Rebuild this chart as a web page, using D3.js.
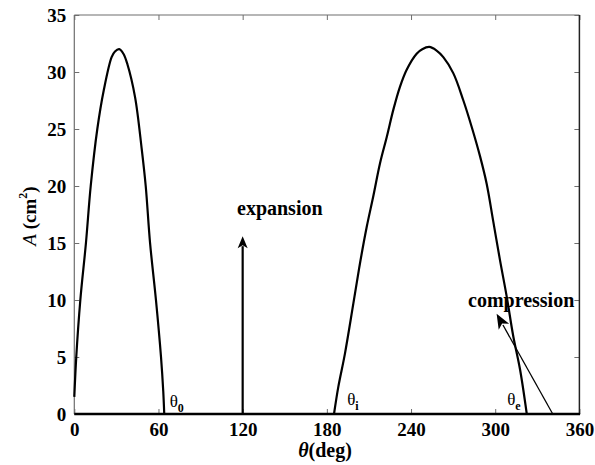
<!DOCTYPE html>
<html>
<head>
<meta charset="utf-8">
<script src="https://cdn.jsdelivr.net/npm/d3@7"></script>
<style>
  html, body { margin: 0; padding: 0; background: #fff; }
  svg { display: block; }
  text { font-family: "Liberation Serif", "Times New Roman", serif; fill: #000; }
</style>
</head>
<body>
<svg id="chart" width="595" height="465"></svg>
<script>
// Crank angle (deg) and area (cm^2) of the two lobes
const thetaLobe1 = [0, 1.4, 4.3, 8.3, 11.7, 16.4, 21, 26.6, 29, 32, 35, 37.8, 43.3, 48, 50.9, 54, 58.2, 61.8, 63.4, 64.1];
const areaLobe1  = [1.5, 5, 10, 15, 20, 25, 28.4, 31.3, 31.8, 32, 31.6, 30.7, 27.8, 23.3, 20, 15, 10, 5, 2, 0];

const thetaLobe2 = [185.1, 188.2, 192.9, 198.9, 203.6, 208.4, 213.1, 217.9, 222.7, 227.4, 232.1, 236.9, 244, 248, 253, 258, 263, 270.1, 277.3, 283.2, 289.2, 293.9, 298.6, 303.4, 308.2, 312.9, 317.7, 322.5];
const areaLobe2  = [0, 2.4, 5.3, 9.7, 13.2, 16.4, 19.1, 22.0, 24.3, 26.7, 28.7, 30.2, 31.6, 32.0, 32.2, 31.9, 31.3, 29.9, 27.5, 25.2, 22.6, 20.2, 16.9, 13.5, 10.3, 6.8, 3.9, 0];

const xTicks = [0, 60, 120, 180, 240, 300, 360];
const yTicks = [0, 5, 10, 15, 20, 25, 30, 35];

// Arrows: [theta start, area start, theta end, area end]
const expansionArrow   = [120, 0, 120, 15.6];
const compressionArrow = [341, 0, 301, 8.8];

// Angle markers: [label subscript, theta, area]
const angleMarks = [["0", 68, 0.6], ["i", 194.5, 0.75], ["e", 308.5, 0.75]];

const svg = d3.select("#chart");
const m = { left: 74.3, right: 579.4, top: 15, bottom: 414 };

const x = d3.scaleLinear().domain([0, 360]).range([m.left, m.right]);
const y = d3.scaleLinear().domain([0, 35]).range([m.bottom, m.top]);

// Frame and inward ticks on all four sides
const axisColor = "#6e6e6e";
function styleAxis(g) {
  g.select(".domain").remove();
  g.selectAll(".tick line").attr("stroke", axisColor).attr("stroke-width", 1);
}
svg.append("g").attr("transform", `translate(0,${m.bottom})`)
  .call(d3.axisBottom(x).tickValues(xTicks).tickSize(-5).tickPadding(9).tickFormat(d3.format("d")))
  .call(styleAxis)
  .call(g => g.selectAll(".tick text").attr("font-size", 19).attr("font-weight", "bold").attr("font-family", "Liberation Serif").attr("fill", "#000"));
svg.append("g").attr("transform", `translate(0,${m.top})`)
  .call(d3.axisTop(x).tickValues(xTicks).tickSize(-5).tickFormat(""))
  .call(styleAxis);
svg.append("g").attr("transform", `translate(${m.left},0)`)
  .call(d3.axisLeft(y).tickValues(yTicks).tickSize(-5).tickPadding(8).tickFormat(d3.format("d")))
  .call(styleAxis)
  .call(g => g.selectAll(".tick text").attr("font-size", 19).attr("font-weight", "bold").attr("font-family", "Liberation Serif").attr("fill", "#000"));
svg.append("g").attr("transform", `translate(${m.right},0)`)
  .call(d3.axisRight(y).tickValues(yTicks).tickSize(-5).tickFormat(""))
  .call(styleAxis);

svg.append("line").attr("x1", m.left).attr("x2", m.right).attr("y1", m.top).attr("y2", m.top)
  .attr("stroke", axisColor).attr("stroke-width", 1.2);
svg.append("line").attr("x1", m.left).attr("x2", m.left).attr("y1", m.top).attr("y2", m.bottom)
  .attr("stroke", axisColor).attr("stroke-width", 1.2);
svg.append("line").attr("x1", m.right).attr("x2", m.right).attr("y1", m.top).attr("y2", m.bottom)
  .attr("stroke", "#222").attr("stroke-width", 1.5);

// Area curves
const line = d3.line().x(d => x(d[0])).y(d => y(d[1])).curve(d3.curveCatmullRom.alpha(0.5));
[[thetaLobe1, areaLobe1], [thetaLobe2, areaLobe2]].forEach(([t, a]) => {
  svg.append("path").datum(t.map((v, i) => [v, a[i]]))
    .attr("d", line).attr("fill", "none").attr("stroke", "#000").attr("stroke-width", 2.2)
    .attr("stroke-linejoin", "round");
});

// Bottom axis line drawn over the curve ends
svg.append("line").attr("x1", m.left).attr("x2", m.right + 0.7).attr("y1", m.bottom).attr("y2", m.bottom)
  .attr("stroke", "#000").attr("stroke-width", 2.6);

// Arrow heads
function arrow(a, width, headLen, headW) {
  const x1 = x(a[0]), y1 = y(a[1]), x2 = x(a[2]), y2 = y(a[3]);
  const ang = Math.atan2(y2 - y1, x2 - x1);
  const bx = x2 - headLen * Math.cos(ang), by = y2 - headLen * Math.sin(ang);
  svg.append("line").attr("x1", x1).attr("y1", y1).attr("x2", bx + 2 * Math.cos(ang)).attr("y2", by + 2 * Math.sin(ang))
    .attr("stroke", "#000").attr("stroke-width", width);
  const px = -Math.sin(ang) * headW / 2, py = Math.cos(ang) * headW / 2;
  const nx = x2 - headLen * 0.75 * Math.cos(ang), ny = y2 - headLen * 0.75 * Math.sin(ang);
  svg.append("path")
    .attr("d", `M${x2},${y2} L${bx + px},${by + py} L${nx},${ny} L${bx - px},${by - py} Z`)
    .attr("fill", "#000");
}
arrow(expansionArrow, 2.2, 12, 10);
arrow(compressionArrow, 1.3, 15, 12);

// Annotations
svg.append("text").attr("x", 237).attr("y", 215).attr("font-size", 20).attr("font-weight", "bold").text("expansion");
svg.append("text").attr("x", 468).attr("y", 307).attr("font-size", 20).attr("font-weight", "bold").text("compression");

angleMarks.forEach(([sub, t, a]) => {
  const tx = svg.append("text").attr("x", x(t)).attr("y", y(a)).attr("font-size", 17);
  tx.append("tspan").text("θ");
  tx.append("tspan").attr("font-size", 12).attr("font-weight", "bold").attr("dy", 5).text(sub);
});

// Axis titles
const xt = svg.append("text").attr("x", 325).attr("y", 457).attr("text-anchor", "middle")
  .attr("font-size", 20).attr("font-weight", "bold");
xt.append("tspan").attr("font-style", "italic").text("θ");
xt.append("tspan").text("(deg)");

const yt = svg.append("text").attr("transform", "translate(36,216) rotate(-90)").attr("text-anchor", "middle")
  .attr("font-size", 19).attr("font-weight", "bold");
yt.append("tspan").attr("font-style", "italic").attr("font-weight", "normal").text("A");
yt.append("tspan").text(" (cm");
yt.append("tspan").attr("font-size", 12).attr("dy", -9).text("2");
yt.append("tspan").attr("dy", 9).text(")");
</script>
</body>
</html>
